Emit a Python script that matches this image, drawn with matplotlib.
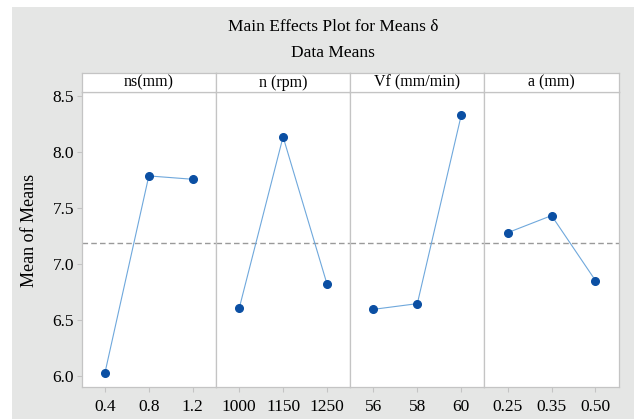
import matplotlib
matplotlib.use("Agg")
import matplotlib.pyplot as plt
from matplotlib.patches import Rectangle

plt.rcParams['font.family'] = ['Liberation Serif', 'DejaVu Serif']

factors = ["ns(mm)", "n (rpm)", "Vf (mm/min)", "a (mm)"]
levels = [
    ["0.4", "0.8", "1.2"],
    ["1000", "1150", "1250"],
    ["56", "58", "60"],
    ["0.25", "0.35", "0.50"],
]
means = [
    [6.027, 7.789, 7.759],
    [6.604, 8.139, 6.823],
    [6.595, 6.646, 8.331],
    [7.281, 7.434, 6.853],
]
grand_mean = 7.19
yticks = [6.0, 6.5, 7.0, 7.5, 8.0, 8.5]

W, H = 634, 419
fig = plt.figure(figsize=(W / 100, H / 100), dpi=100)
fig.patch.set_facecolor("white")
bg = "#e5e6e5"
fig.patches.append(Rectangle((12 / W, 0), 1 - 12 / W, 1 - 7 / H, transform=fig.transFigure,
                             facecolor=bg, edgecolor="none", zorder=-10))

left_px, right_px = 81.7, 618.7
top_px, bot_px = 92.0, 387.0
strip_top = 73.3
pw = (right_px - left_px) / 4
edge = "#c4c4c4"
line_c = "#6fa8dc"
mark_c = "#0b4fa3"

axes = []
for i in range(4):
    x0 = (left_px + i * pw) / W
    ax = fig.add_axes([x0, 1 - bot_px / H, pw / W, (bot_px - top_px) / H])
    ax.set_facecolor("white")
    xs = list(range(len(levels[i])))
    ax.axhline(grand_mean, color="#9a9a9a", lw=1.0, dashes=(4, 2.3), zorder=1)
    ax.plot(xs, means[i], color=line_c, lw=0.8, zorder=2)
    ax.plot(xs, means[i], "o", color=mark_c, ms=5.5, zorder=3)
    ax.set_xlim(-0.53, 2.53)
    ax.set_ylim(5.90, 8.54)
    ax.set_xticks(xs)
    ax.set_xticklabels(levels[i], fontsize=12.5)
    ax.tick_params(axis="x", length=3.5, width=0.8, color=edge, pad=5)
    for s in ax.spines.values():
        s.set_color(edge)
        s.set_linewidth(0.9)
    if i == 0:
        ax.set_yticks(yticks)
        ax.set_yticklabels([f"{v:.1f}" for v in yticks], fontsize=12.5)
        ax.tick_params(axis="y", length=3.5, width=0.8, color=edge, pad=2)
    else:
        ax.set_yticks([])
    # strip
    sax = fig.add_axes([x0, 1 - top_px / H, pw / W, (top_px - strip_top) / H])
    sax.set_facecolor("white")
    sax.set_xticks([])
    sax.set_yticks([])
    for s in sax.spines.values():
        s.set_color(edge)
        s.set_linewidth(0.9)
    sax.text(0.5, 0.5, factors[i], ha="center", va="center", fontsize=11.5,
             transform=sax.transAxes)
    axes.append(ax)

fig.text(333 / W, 1 - 27 / H, "Main Effects Plot for Means δ", ha="center", va="center", fontsize=12.5)
fig.text(333 / W, 1 - 53 / H, "Data Means", ha="center", va="center", fontsize=12.5)
fig.text(29 / W, 1 - 230 / H, "Mean of Means", ha="center", va="center", rotation=90, fontsize=13)

fig.savefig("out.png", dpi=100, facecolor=fig.get_facecolor())
